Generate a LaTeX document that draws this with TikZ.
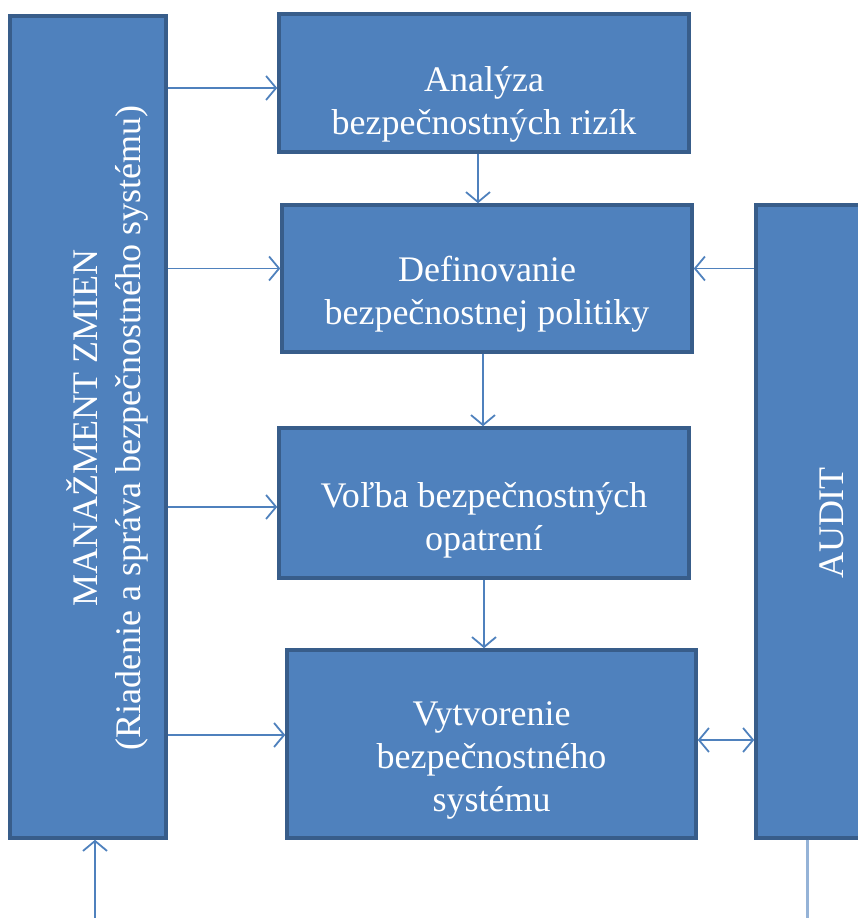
\documentclass[tikz,border=0pt]{standalone}
\usepackage{fontspec}
\setmainfont{Liberation Serif}
\usetikzlibrary{arrows.meta}
\definecolor{boxblue}{HTML}{4F81BD}
\definecolor{edgeblue}{HTML}{385D8A}

\begin{document}
\begin{tikzpicture}[x=1pt, y=1pt,
    blok/.style={draw=edgeblue, line width=3.5pt, fill=boxblue, inner sep=0pt},
    napis/.style={text=white, align=center, font=\fontsize{36}{43}\selectfont},
    sipka/.style={draw=boxblue, line width=1.8pt, -{Straight Barb[length=10pt,width=24pt]}},
    dvojsipka/.style={sipka, {Straight Barb[length=10pt,width=24pt]}-{Straight Barb[length=10pt,width=24pt]}}
  ]
  \useasboundingbox (0,0) rectangle (858,918);

  % Change management (left column)
  \node[blok, minimum width=156, minimum height=822] (manazment) at (88,491) {};
  \node[napis, rotate=90] (manazmentText) at (107,490)
    {MANAŽMENT ZMIEN\\(Riadenie a správa bezpečnostného systému)};

  % Audit (right column, cut by the page edge)
  \node[blok, minimum width=152, minimum height=633] (audit) at (832,396.5) {};
  \node[napis, rotate=90] (auditText) at (832,395) {AUDIT};

  % Process steps
  \node[blok, minimum width=410, minimum height=138] (analyza) at (484,835) {};
  \node[napis] (analyzaText) at ([yshift=-21]analyza.center)
    {Analýza\\bezpečnostných rizík};

  \node[blok, minimum width=410, minimum height=147] (politika) at (487,639.5) {};
  \node[napis] (politikaText) at ([yshift=-16]politika.center)
    {Definovanie\\bezpečnostnej politiky};

  \node[blok, minimum width=410, minimum height=150] (opatrenia) at (484,415) {};
  \node[napis] (opatreniaText) at ([yshift=-17]opatrenia.center)
    {Voľba bezpečnostných\\opatrení};

  \node[blok, minimum width=409, minimum height=188] (system) at (491.5,174) {};
  \node[napis] (systemText) at ([yshift=-16]system.center)
    {Vytvorenie\\bezpečnostného\\systému};

  % Arrows from the left column
  \draw[sipka] ([yshift=-5]manazment.east |- analyza.west) -- ([yshift=-5]analyza.west);
  \draw[sipka] ([yshift=10]manazment.east |- politika.west) -- ([yshift=10]politika.west);
  \draw[sipka] ([yshift=-4]manazment.east |- opatrenia.west) -- ([yshift=-4]opatrenia.west);
  \draw[sipka] ([yshift=9]manazment.east |- system.west) -- ([yshift=9]system.west);

  % Arrows between the steps
  \draw[sipka] ([xshift=-6]analyza.south) -- ([xshift=-6]analyza.south |- politika.north);
  \draw[sipka] ([xshift=-4]politika.south) -- ([xshift=-4]politika.south |- opatrenia.north);
  \draw[sipka] (opatrenia.south) -- (opatrenia.south |- system.north);

  % Audit links
  \draw[sipka] ([yshift=10]audit.west |- politika.east) -- ([yshift=10]politika.east);
  \draw[dvojsipka] ([yshift=4]system.east) -- ([yshift=4]system.east -| audit.west);

  % Input and output at the bottom
  \coordinate (vstup) at (95,0);
  \coordinate (vystup) at (807,0);
  \draw[sipka] (vstup) -- (vstup |- manazment.south);
  \draw[draw=boxblue!60, line width=3pt] (audit.south -| vystup) -- (vystup);
\end{tikzpicture}
\end{document}
